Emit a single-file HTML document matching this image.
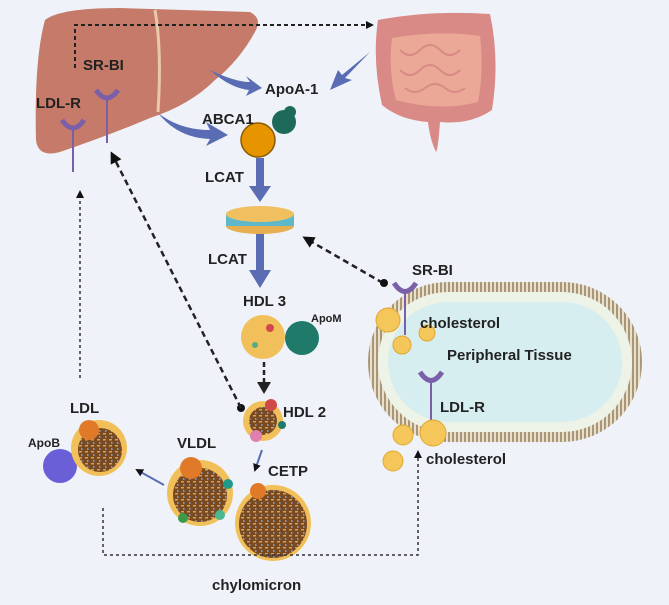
<!DOCTYPE html>
<html><head><meta charset="utf-8"><style>
html,body{margin:0;padding:0;background:#eff3f9;}
svg{display:block;font-family:"Liberation Sans",sans-serif;font-weight:bold;}
</style></head><body>
<svg width="669" height="605" viewBox="0 0 669 605" xmlns="http://www.w3.org/2000/svg">
<defs>
<marker id="ah" markerWidth="8" markerHeight="8" refX="6" refY="4" orient="auto" markerUnits="userSpaceOnUse"><path d="M0,0 L8,4 L0,8 Z" fill="#111"/></marker>
<marker id="ah2" markerWidth="12" markerHeight="12" refX="9" refY="6" orient="auto" markerUnits="userSpaceOnUse"><path d="M0,0 L12,6 L0,12 Z" fill="#111"/></marker>
<pattern id="mem" width="4" height="4" patternUnits="userSpaceOnUse"><rect width="4" height="4" fill="#e8e0cc"/><rect width="2" height="4" fill="#a89676"/></pattern>
<pattern id="core" width="6" height="6" patternUnits="userSpaceOnUse"><rect width="6" height="6" fill="#7a4a1e"/><rect x="1" y="1" width="3" height="1.5" fill="#c9a36a"/><rect x="3" y="4" width="1.5" height="2" fill="#7d95c9"/></pattern>
</defs>
<!-- liver -->
<path d="M45,20 Q60,8 120,8 L250,12 Q262,18 256,30 Q240,60 215,80 Q190,105 150,118 Q110,135 60,152 Q38,158 36,140 Q34,60 45,20 Z" fill="#c67b6a"/>
<path d="M155,10 Q162,50 158,112" stroke="#e8c9a8" stroke-width="3" fill="none"/>
<!-- intestine -->
<path d="M378,20 Q430,10 490,14 Q500,60 492,110 Q470,125 440,122 Q438,150 436,152 Q430,140 428,122 Q400,120 382,105 Q372,60 378,20 Z" fill="#d98a86"/>
<path d="M392,38 Q440,30 480,36 Q484,70 478,102 Q440,112 396,100 Q388,70 392,38 Z" fill="#eba896"/>
<path d="M400,50 q10,10 20,0 q10,-10 20,0 q10,10 20,0 M400,70 q10,10 20,0 q10,-10 20,0 q10,10 20,0 M405,88 q10,8 20,0 q10,-8 20,0 q10,8 20,0" stroke="#d98a86" stroke-width="2" fill="none"/>
<!-- dashed liver->intestine -->
<path d="M75,68 L75,25 L372,25" stroke="#222" stroke-width="2" stroke-dasharray="4,3" fill="none" marker-end="url(#ah)"/>
<!-- blue arrows -->
<path d="M210,70 Q235,82 250,82 L246,76 L262,88 L246,96 L249,90 Q230,88 210,70Z" fill="#5a6db4"/>
<path d="M370,52 L345,78 L352,80 L330,90 L338,70 L342,75 Z" fill="#5a6db4"/>
<path d="M158,113 Q180,130 210,130 L206,122 L228,135 L206,146 L210,139 Q178,138 158,113Z" fill="#5a6db4"/>
<rect x="256" y="158" width="8" height="30" fill="#5a6db4"/><path d="M249,186 L271,186 L260,202 Z" fill="#5a6db4"/>
<rect x="256" y="232" width="8" height="40" fill="#5a6db4"/><path d="M249,270 L271,270 L260,288 Z" fill="#5a6db4"/>
<!-- receptors liver -->
<g stroke="#7b5fa8" stroke-width="5" fill="none"><path d="M62,120 Q73,136 84,120"/><path d="M96,90 Q107,106 118,90"/></g>
<g stroke="#7b5fa8" stroke-width="2"><line x1="73" y1="130" x2="73" y2="172"/><line x1="107" y1="100" x2="107" y2="143"/></g>
<!-- ABCA1 -->
<circle cx="284" cy="122" r="12" fill="#1d6a5a"/><circle cx="290" cy="112" r="6" fill="#1d6a5a"/>
<circle cx="258" cy="140" r="17" fill="#e69500" stroke="#8a5a00" stroke-width="1.5"/>
<!-- disc -->
<ellipse cx="260" cy="226" rx="34" ry="8" fill="#e6b050"/><rect x="226" y="214" width="68" height="12" fill="#5fb8c9"/><ellipse cx="260" cy="214" rx="34" ry="8" fill="#f0c060"/>
<!-- HDL3 -->
<circle cx="302" cy="338" r="17" fill="#1f7a6a"/>
<circle cx="263" cy="337" r="22" fill="#f2c05a"/><circle cx="270" cy="328" r="4" fill="#d04848"/><circle cx="255" cy="345" r="3" fill="#5a8"/>
<path d="M264,362 L264,384" stroke="#222" stroke-width="2.5" stroke-dasharray="5,3"/><path d="M257,382 L271,382 L264,394 Z" fill="#222"/>
<!-- HDL2 -->
<circle cx="263" cy="421" r="20" fill="#f2c05a"/><circle cx="263" cy="421" r="14" fill="url(#core)"/><circle cx="271" cy="405" r="6" fill="#d04848"/><circle cx="256" cy="436" r="6" fill="#e080b0"/><circle cx="282" cy="425" r="4" fill="#1f7a6a"/>
<circle cx="241" cy="408" r="4" fill="#111"/>
<path d="M241,408 L112,154" stroke="#222" stroke-width="2.5" stroke-dasharray="6,4" marker-end="url(#ah2)"/>
<path d="M80,378 L80,192" stroke="#333" stroke-width="1.5" stroke-dasharray="3,3" marker-end="url(#ah)"/>
<!-- peripheral tissue -->
<rect x="368" y="282" width="274" height="160" rx="80" fill="url(#mem)"/>
<rect x="378" y="292" width="254" height="140" rx="70" fill="#eef3e8"/>
<rect x="388" y="302" width="234" height="120" rx="60" fill="#d6eef0"/>
<!-- SR-BI periph -->
<path d="M383,283 L305,238" stroke="#222" stroke-width="2.5" stroke-dasharray="6,4" marker-end="url(#ah2)"/>
<circle cx="384" cy="283" r="4" fill="#111"/>
<path d="M394,283 Q405,300 416,283" stroke="#7b5fa8" stroke-width="5" fill="none"/><line x1="405" y1="292" x2="405" y2="335" stroke="#7b5fa8" stroke-width="2"/>
<path d="M420,372 Q431,389 442,372" stroke="#7b5fa8" stroke-width="5" fill="none"/><line x1="431" y1="381" x2="431" y2="422" stroke="#7b5fa8" stroke-width="2"/>
<g fill="#f5c65a" stroke="#e0a830"><circle cx="388" cy="320" r="12"/><circle cx="402" cy="345" r="9"/><circle cx="427" cy="333" r="8"/><circle cx="403" cy="435" r="10"/><circle cx="433" cy="433" r="13"/><circle cx="393" cy="461" r="10"/></g>
<!-- LDL -->
<circle cx="60" cy="466" r="17" fill="#6a5fd6"/>
<circle cx="99" cy="448" r="28" fill="#f2c05a"/><circle cx="100" cy="450" r="22" fill="url(#core)"/><circle cx="89" cy="430" r="10" fill="#e07a28"/>
<path d="M164,485 L137,470" stroke="#5a6db4" stroke-width="2" marker-end="url(#ah)"/>
<!-- VLDL -->
<circle cx="200" cy="493" r="33" fill="#f2c05a"/><circle cx="200" cy="495" r="27" fill="url(#core)"/><circle cx="191" cy="468" r="11" fill="#e07a28"/><circle cx="228" cy="484" r="5" fill="#1f9a8a"/><circle cx="183" cy="518" r="5" fill="#3a9a4a"/><circle cx="220" cy="515" r="5" fill="#4ab890"/>
<path d="M262,450 L255,470" stroke="#5a6db4" stroke-width="2" marker-end="url(#ah)"/>
<!-- chylomicron -->
<circle cx="273" cy="523" r="38" fill="#f2c05a"/><circle cx="273" cy="524" r="34" fill="url(#core)"/><circle cx="258" cy="491" r="8" fill="#e07a28"/>
<!-- bottom dotted path -->
<path d="M103,508 L103,555 L418,555 L418,452" stroke="#333" stroke-width="1.5" stroke-dasharray="3,3" fill="none" marker-end="url(#ah)"/>
<!-- labels -->
<g font-size="15" fill="#222">
<text x="83" y="70">SR-BI</text>
<text x="36" y="108">LDL-R</text>
<text x="265" y="94">ApoA-1</text>
<text x="202" y="124">ABCA1</text>
<text x="205" y="182">LCAT</text>
<text x="208" y="264">LCAT</text>
<text x="243" y="306">HDL 3</text>
<text x="283" y="417">HDL 2</text>
<text x="70" y="413">LDL</text>
<text x="177" y="448">VLDL</text>
<text x="268" y="476">CETP</text>
<text x="212" y="590">chylomicron</text>
<text x="412" y="275">SR-BI</text>
<text x="420" y="328">cholesterol</text>
<text x="447" y="360">Peripheral Tissue</text>
<text x="440" y="412">LDL-R</text>
<text x="426" y="464">cholesterol</text>
</g>
<text x="311" y="322" font-size="11" fill="#222">ApoM</text>
<text x="28" y="447" font-size="12" fill="#222">ApoB</text>
</svg>
</body></html>
